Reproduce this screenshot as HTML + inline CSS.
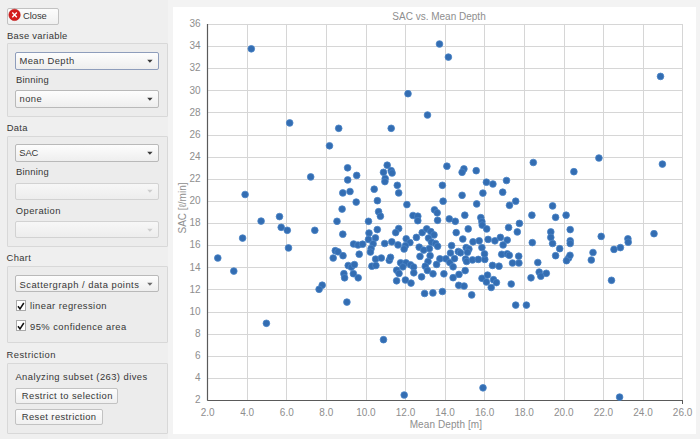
<!DOCTYPE html>
<html><head><meta charset="utf-8">
<style>
html,body{margin:0;padding:0;}
body{width:700px;height:439px;background:#efefef;position:relative;overflow:hidden;font-family:"Liberation Sans",sans-serif;font-size:9.4px;color:#363636;}
.a{position:absolute;}
.t{position:absolute;white-space:nowrap;line-height:10px;letter-spacing:0.42px;}
.gb{position:absolute;left:7px;width:160.8px;border:1px solid #d8d8d8;background:#ececec;border-radius:1px;box-sizing:border-box;}
.cb{position:absolute;left:15px;width:144px;height:17.5px;border:1px solid #b9b9b9;border-radius:2px;background:linear-gradient(#fdfdfd,#eeeeee);box-sizing:border-box;}
.cb.dis{border-color:#d2d2d2;background:linear-gradient(#f7f7f7,#ededed);}
.cb.foc{border-color:#8e9dbb;}
.arr{position:absolute;left:130.3px;top:5.5px;width:8px;height:5px;}
.btn{position:absolute;border:1px solid #c2c2c2;border-radius:2px;background:linear-gradient(#fcfcfc,#f0f0f0);box-sizing:border-box;}
.chk{position:absolute;left:15.5px;width:10px;height:11px;border:1px solid #a9a9a9;background:#fff;box-sizing:border-box;}
.lab{font-family:"Liberation Sans",sans-serif;font-size:10px;fill:#8e8e8e;}
</style></head><body>
<!-- Close button -->
<div class="btn" style="left:6.5px;top:7.5px;width:52.5px;height:17px;"></div>
<svg class="a" style="left:0;top:0" width="30" height="30"><circle cx="14.55" cy="14.9" r="5.7" fill="#d41c1c" stroke="#b81010" stroke-width="0.6"/><path d="M12.3 12.5 L16.8 17.3 M16.8 12.5 L12.3 17.3" stroke="#fff" stroke-width="1.3"/></svg>
<div class="t" style="left:23px;top:10.5px;letter-spacing:-0.05px;">Close</div>

<div class="t" style="left:6.9px;top:30.6px;letter-spacing:0.3px;">Base variable</div>
<div class="gb" style="top:42.8px;height:74.2px;"></div>
<div class="cb foc" style="top:52px;"><svg class="arr" width="8" height="5"><path d="M1.2 0.8 L6.6 0.8 L3.9 3.8 Z" fill="#3a3a3a"/></svg></div>
<div class="t" style="left:19.5px;top:55.6px;letter-spacing:0.4px;">Mean Depth</div>
<div class="t" style="left:16px;top:75.1px;letter-spacing:0.24px;">Binning</div>
<div class="cb" style="top:90.2px;"><svg class="arr" width="8" height="5"><path d="M1.2 0.8 L6.6 0.8 L3.9 3.8 Z" fill="#3a3a3a"/></svg></div>
<div class="t" style="left:19.6px;top:93.7px;letter-spacing:0.41px;">none</div>

<div class="t" style="left:6.7px;top:122.8px;letter-spacing:0.3px;">Data</div>
<div class="gb" style="top:136.2px;height:110.6px;"></div>
<div class="cb" style="top:144.2px;"><svg class="arr" width="8" height="5"><path d="M1.2 0.8 L6.6 0.8 L3.9 3.8 Z" fill="#3a3a3a"/></svg></div>
<div class="t" style="left:19.3px;top:148.3px;letter-spacing:-0.1px;">SAC</div>
<div class="t" style="left:16px;top:167.4px;letter-spacing:0.24px;">Binning</div>
<div class="cb dis" style="top:182.5px;"><svg class="arr" width="8" height="5"><path d="M1.2 0.8 L6.6 0.8 L3.9 3.8 Z" fill="#cdcdcd"/></svg></div>
<div class="t" style="left:15.8px;top:205.8px;letter-spacing:0.44px;">Operation</div>
<div class="cb dis" style="top:221px;height:16.5px;"><svg class="arr" width="8" height="5"><path d="M1.2 0.8 L6.6 0.8 L3.9 3.8 Z" fill="#cdcdcd"/></svg></div>

<div class="t" style="left:6.5px;top:253.2px;letter-spacing:0.37px;">Chart</div>
<div class="gb" style="top:266.3px;height:76.6px;"></div>
<div class="cb" style="top:275px;height:17.3px;"><svg class="arr" width="8" height="5"><path d="M1.2 0.8 L6.6 0.8 L3.9 3.8 Z" fill="#6a6a6a"/></svg></div>
<div class="t" style="left:19.5px;top:280px;letter-spacing:0.48px;">Scattergraph / data points</div>
<div class="chk" style="top:300.2px;"></div>
<svg class="a" style="left:15px;top:300px" width="12" height="12"><path d="M3 6.2 L5 9 L8.8 3" stroke="#111" stroke-width="1.5" fill="none"/></svg>
<div class="t" style="left:30px;top:301.2px;letter-spacing:0.45px;">linear regression</div>
<div class="chk" style="top:320.2px;"></div>
<svg class="a" style="left:15px;top:320px" width="12" height="12"><path d="M3 6.2 L5 9 L8.8 3" stroke="#111" stroke-width="1.5" fill="none"/></svg>
<div class="t" style="left:30px;top:321.7px;letter-spacing:0.45px;">95% confidence area</div>

<div class="t" style="left:6.5px;top:349.6px;letter-spacing:0.47px;">Restriction</div>
<div class="gb" style="top:363px;height:71px;"></div>
<div class="t" style="left:15.4px;top:372.1px;letter-spacing:0.44px;">Analyzing subset (263) dives</div>
<div class="btn" style="left:15.4px;top:387.6px;width:102.8px;height:16px;"></div>
<div class="t" style="left:21.8px;top:391px;letter-spacing:0.44px;">Restrict to selection</div>
<div class="btn" style="left:15.4px;top:408.6px;width:87.2px;height:16.2px;"></div>
<div class="t" style="left:21.8px;top:412px;letter-spacing:0.41px;">Reset restriction</div>

<!-- chart panel -->
<div class="a" style="left:168px;top:0px;width:532px;height:439px;background:#f3f3f3;"></div>
<div class="a" style="left:172.5px;top:7px;width:523.8px;height:426.8px;background:#fff;"></div>
<svg class="a" style="left:0;top:0" width="700" height="439">
<line x1="247.5" y1="23.95999999999998" x2="247.5" y2="400.0" stroke="#d6d6d6" stroke-width="1"/>
<line x1="286.5" y1="23.95999999999998" x2="286.5" y2="400.0" stroke="#d6d6d6" stroke-width="1"/>
<line x1="326.5" y1="23.95999999999998" x2="326.5" y2="400.0" stroke="#d6d6d6" stroke-width="1"/>
<line x1="366.5" y1="23.95999999999998" x2="366.5" y2="400.0" stroke="#d6d6d6" stroke-width="1"/>
<line x1="405.5" y1="23.95999999999998" x2="405.5" y2="400.0" stroke="#d6d6d6" stroke-width="1"/>
<line x1="445.5" y1="23.95999999999998" x2="445.5" y2="400.0" stroke="#d6d6d6" stroke-width="1"/>
<line x1="484.5" y1="23.95999999999998" x2="484.5" y2="400.0" stroke="#d6d6d6" stroke-width="1"/>
<line x1="524.5" y1="23.95999999999998" x2="524.5" y2="400.0" stroke="#d6d6d6" stroke-width="1"/>
<line x1="564.5" y1="23.95999999999998" x2="564.5" y2="400.0" stroke="#d6d6d6" stroke-width="1"/>
<line x1="603.5" y1="23.95999999999998" x2="603.5" y2="400.0" stroke="#d6d6d6" stroke-width="1"/>
<line x1="643.5" y1="23.95999999999998" x2="643.5" y2="400.0" stroke="#d6d6d6" stroke-width="1"/>
<line x1="682.5" y1="23.95999999999998" x2="682.5" y2="400.0" stroke="#d6d6d6" stroke-width="1"/>
<line x1="207.3" y1="378.5" x2="682.26" y2="378.5" stroke="#d6d6d6" stroke-width="1"/>
<line x1="207.3" y1="356.5" x2="682.26" y2="356.5" stroke="#d6d6d6" stroke-width="1"/>
<line x1="207.3" y1="334.5" x2="682.26" y2="334.5" stroke="#d6d6d6" stroke-width="1"/>
<line x1="207.3" y1="312.5" x2="682.26" y2="312.5" stroke="#d6d6d6" stroke-width="1"/>
<line x1="207.3" y1="289.5" x2="682.26" y2="289.5" stroke="#d6d6d6" stroke-width="1"/>
<line x1="207.3" y1="267.5" x2="682.26" y2="267.5" stroke="#d6d6d6" stroke-width="1"/>
<line x1="207.3" y1="245.5" x2="682.26" y2="245.5" stroke="#d6d6d6" stroke-width="1"/>
<line x1="207.3" y1="223.5" x2="682.26" y2="223.5" stroke="#d6d6d6" stroke-width="1"/>
<line x1="207.3" y1="201.5" x2="682.26" y2="201.5" stroke="#d6d6d6" stroke-width="1"/>
<line x1="207.3" y1="179.5" x2="682.26" y2="179.5" stroke="#d6d6d6" stroke-width="1"/>
<line x1="207.3" y1="157.5" x2="682.26" y2="157.5" stroke="#d6d6d6" stroke-width="1"/>
<line x1="207.3" y1="135.5" x2="682.26" y2="135.5" stroke="#d6d6d6" stroke-width="1"/>
<line x1="207.3" y1="112.5" x2="682.26" y2="112.5" stroke="#d6d6d6" stroke-width="1"/>
<line x1="207.3" y1="90.5" x2="682.26" y2="90.5" stroke="#d6d6d6" stroke-width="1"/>
<line x1="207.3" y1="68.5" x2="682.26" y2="68.5" stroke="#d6d6d6" stroke-width="1"/>
<line x1="207.3" y1="46.5" x2="682.26" y2="46.5" stroke="#d6d6d6" stroke-width="1"/>
<line x1="207.3" y1="24.5" x2="682.26" y2="24.5" stroke="#d6d6d6" stroke-width="1"/>
<line x1="207.5" y1="23.95999999999998" x2="207.5" y2="400.5" stroke="#5a5a5a" stroke-width="1.2"/>
<line x1="207.3" y1="400.5" x2="682.76" y2="400.5" stroke="#5a5a5a" stroke-width="1.2"/>
<line x1="682.5" y1="400" x2="682.5" y2="404" stroke="#5a5a5a" stroke-width="1"/>
<text x="200.6" y="403.2" text-anchor="end" class="lab" style="letter-spacing:0px">2</text>
<text x="200.6" y="381.1" text-anchor="end" class="lab" style="letter-spacing:0px">4</text>
<text x="200.6" y="359.0" text-anchor="end" class="lab" style="letter-spacing:0px">6</text>
<text x="200.6" y="336.8" text-anchor="end" class="lab" style="letter-spacing:0px">8</text>
<text x="200.6" y="314.7" text-anchor="end" class="lab" style="letter-spacing:0px">10</text>
<text x="200.6" y="292.6" text-anchor="end" class="lab" style="letter-spacing:0px">12</text>
<text x="200.6" y="270.5" text-anchor="end" class="lab" style="letter-spacing:0px">14</text>
<text x="200.6" y="248.4" text-anchor="end" class="lab" style="letter-spacing:0px">16</text>
<text x="200.6" y="226.2" text-anchor="end" class="lab" style="letter-spacing:0px">18</text>
<text x="200.6" y="204.1" text-anchor="end" class="lab" style="letter-spacing:0px">20</text>
<text x="200.6" y="182.0" text-anchor="end" class="lab" style="letter-spacing:0px">22</text>
<text x="200.6" y="159.9" text-anchor="end" class="lab" style="letter-spacing:0px">24</text>
<text x="200.6" y="137.8" text-anchor="end" class="lab" style="letter-spacing:0px">26</text>
<text x="200.6" y="115.6" text-anchor="end" class="lab" style="letter-spacing:0px">28</text>
<text x="200.6" y="93.5" text-anchor="end" class="lab" style="letter-spacing:0px">30</text>
<text x="200.6" y="71.4" text-anchor="end" class="lab" style="letter-spacing:0px">32</text>
<text x="200.6" y="49.3" text-anchor="end" class="lab" style="letter-spacing:0px">34</text>
<text x="200.6" y="27.2" text-anchor="end" class="lab" style="letter-spacing:0px">36</text>
<text x="207.6" y="415.6" text-anchor="middle" class="lab" style="letter-spacing:0px">2.0</text>
<text x="247.2" y="415.6" text-anchor="middle" class="lab" style="letter-spacing:0px">4.0</text>
<text x="286.8" y="415.6" text-anchor="middle" class="lab" style="letter-spacing:0px">6.0</text>
<text x="326.3" y="415.6" text-anchor="middle" class="lab" style="letter-spacing:0px">8.0</text>
<text x="365.9" y="415.6" text-anchor="middle" class="lab" style="letter-spacing:0px">10.0</text>
<text x="405.5" y="415.6" text-anchor="middle" class="lab" style="letter-spacing:0px">12.0</text>
<text x="445.1" y="415.6" text-anchor="middle" class="lab" style="letter-spacing:0px">14.0</text>
<text x="484.7" y="415.6" text-anchor="middle" class="lab" style="letter-spacing:0px">16.0</text>
<text x="524.2" y="415.6" text-anchor="middle" class="lab" style="letter-spacing:0px">18.0</text>
<text x="563.8" y="415.6" text-anchor="middle" class="lab" style="letter-spacing:0px">20.0</text>
<text x="603.4" y="415.6" text-anchor="middle" class="lab" style="letter-spacing:0px">22.0</text>
<text x="643.0" y="415.6" text-anchor="middle" class="lab" style="letter-spacing:0px">24.0</text>
<text x="682.6" y="415.6" text-anchor="middle" class="lab" style="letter-spacing:0px">26.0</text>
<text x="445.9" y="427.8" text-anchor="middle" class="lab" style="letter-spacing:0.1px">Mean Depth [m]</text>
<text x="439" y="19.8" text-anchor="middle" class="lab" style="letter-spacing:0px">SAC vs. Mean Depth</text>
<text transform="translate(186.4,208) rotate(-90)" text-anchor="middle" class="lab" style="letter-spacing:0px">SAC [ℓ/min]</text>
<circle cx="251.3" cy="48.8" r="3.35" fill="#336db2" stroke="#4a84c6" stroke-width="0.8"/>
<circle cx="439.5" cy="44.0" r="3.35" fill="#336db2" stroke="#4a84c6" stroke-width="0.8"/>
<circle cx="408.0" cy="93.7" r="3.35" fill="#336db2" stroke="#4a84c6" stroke-width="0.8"/>
<circle cx="427.5" cy="115.0" r="3.35" fill="#336db2" stroke="#4a84c6" stroke-width="0.8"/>
<circle cx="289.7" cy="122.9" r="3.35" fill="#336db2" stroke="#4a84c6" stroke-width="0.8"/>
<circle cx="338.7" cy="128.3" r="3.35" fill="#336db2" stroke="#4a84c6" stroke-width="0.8"/>
<circle cx="391.2" cy="128.3" r="3.35" fill="#336db2" stroke="#4a84c6" stroke-width="0.8"/>
<circle cx="329.5" cy="145.8" r="3.35" fill="#336db2" stroke="#4a84c6" stroke-width="0.8"/>
<circle cx="448.4" cy="57.1" r="3.35" fill="#336db2" stroke="#4a84c6" stroke-width="0.8"/>
<circle cx="660.5" cy="76.4" r="3.35" fill="#336db2" stroke="#4a84c6" stroke-width="0.8"/>
<circle cx="310.7" cy="176.9" r="3.35" fill="#336db2" stroke="#4a84c6" stroke-width="0.8"/>
<circle cx="245.1" cy="194.5" r="3.35" fill="#336db2" stroke="#4a84c6" stroke-width="0.8"/>
<circle cx="261.1" cy="221.1" r="3.35" fill="#336db2" stroke="#4a84c6" stroke-width="0.8"/>
<circle cx="279.5" cy="216.6" r="3.35" fill="#336db2" stroke="#4a84c6" stroke-width="0.8"/>
<circle cx="281.2" cy="227.3" r="3.35" fill="#336db2" stroke="#4a84c6" stroke-width="0.8"/>
<circle cx="287.3" cy="230.3" r="3.35" fill="#336db2" stroke="#4a84c6" stroke-width="0.8"/>
<circle cx="314.8" cy="230.3" r="3.35" fill="#336db2" stroke="#4a84c6" stroke-width="0.8"/>
<circle cx="242.6" cy="238.1" r="3.35" fill="#336db2" stroke="#4a84c6" stroke-width="0.8"/>
<circle cx="288.5" cy="247.9" r="3.35" fill="#336db2" stroke="#4a84c6" stroke-width="0.8"/>
<circle cx="217.8" cy="258.0" r="3.35" fill="#336db2" stroke="#4a84c6" stroke-width="0.8"/>
<circle cx="233.8" cy="271.1" r="3.35" fill="#336db2" stroke="#4a84c6" stroke-width="0.8"/>
<circle cx="322.2" cy="285.2" r="3.35" fill="#336db2" stroke="#4a84c6" stroke-width="0.8"/>
<circle cx="319.1" cy="289.3" r="3.35" fill="#336db2" stroke="#4a84c6" stroke-width="0.8"/>
<circle cx="266.4" cy="323.3" r="3.35" fill="#336db2" stroke="#4a84c6" stroke-width="0.8"/>
<circle cx="347.6" cy="167.8" r="3.35" fill="#336db2" stroke="#4a84c6" stroke-width="0.8"/>
<circle cx="356.7" cy="175.4" r="3.35" fill="#336db2" stroke="#4a84c6" stroke-width="0.8"/>
<circle cx="347.7" cy="179.9" r="3.35" fill="#336db2" stroke="#4a84c6" stroke-width="0.8"/>
<circle cx="350.0" cy="191.5" r="3.35" fill="#336db2" stroke="#4a84c6" stroke-width="0.8"/>
<circle cx="342.8" cy="192.9" r="3.35" fill="#336db2" stroke="#4a84c6" stroke-width="0.8"/>
<circle cx="387.2" cy="165.2" r="3.35" fill="#336db2" stroke="#4a84c6" stroke-width="0.8"/>
<circle cx="383.5" cy="172.3" r="3.35" fill="#336db2" stroke="#4a84c6" stroke-width="0.8"/>
<circle cx="385.2" cy="178.5" r="3.35" fill="#336db2" stroke="#4a84c6" stroke-width="0.8"/>
<circle cx="384.9" cy="181.6" r="3.35" fill="#336db2" stroke="#4a84c6" stroke-width="0.8"/>
<circle cx="374.2" cy="189.2" r="3.35" fill="#336db2" stroke="#4a84c6" stroke-width="0.8"/>
<circle cx="356.2" cy="202.1" r="3.35" fill="#336db2" stroke="#4a84c6" stroke-width="0.8"/>
<circle cx="377.4" cy="200.7" r="3.35" fill="#336db2" stroke="#4a84c6" stroke-width="0.8"/>
<circle cx="342.1" cy="209.1" r="3.35" fill="#336db2" stroke="#4a84c6" stroke-width="0.8"/>
<circle cx="378.6" cy="211.7" r="3.35" fill="#336db2" stroke="#4a84c6" stroke-width="0.8"/>
<circle cx="380.4" cy="216.2" r="3.35" fill="#336db2" stroke="#4a84c6" stroke-width="0.8"/>
<circle cx="337.0" cy="221.3" r="3.35" fill="#336db2" stroke="#4a84c6" stroke-width="0.8"/>
<circle cx="368.5" cy="221.3" r="3.35" fill="#336db2" stroke="#4a84c6" stroke-width="0.8"/>
<circle cx="377.3" cy="229.6" r="3.35" fill="#336db2" stroke="#4a84c6" stroke-width="0.8"/>
<circle cx="342.8" cy="234.2" r="3.35" fill="#336db2" stroke="#4a84c6" stroke-width="0.8"/>
<circle cx="369.0" cy="233.0" r="3.35" fill="#336db2" stroke="#4a84c6" stroke-width="0.8"/>
<circle cx="375.4" cy="237.9" r="3.35" fill="#336db2" stroke="#4a84c6" stroke-width="0.8"/>
<circle cx="368.5" cy="239.4" r="3.35" fill="#336db2" stroke="#4a84c6" stroke-width="0.8"/>
<circle cx="353.6" cy="244.0" r="3.35" fill="#336db2" stroke="#4a84c6" stroke-width="0.8"/>
<circle cx="358.0" cy="245.0" r="3.35" fill="#336db2" stroke="#4a84c6" stroke-width="0.8"/>
<circle cx="362.6" cy="244.2" r="3.35" fill="#336db2" stroke="#4a84c6" stroke-width="0.8"/>
<circle cx="373.1" cy="243.8" r="3.35" fill="#336db2" stroke="#4a84c6" stroke-width="0.8"/>
<circle cx="371.1" cy="248.5" r="3.35" fill="#336db2" stroke="#4a84c6" stroke-width="0.8"/>
<circle cx="384.7" cy="243.5" r="3.35" fill="#336db2" stroke="#4a84c6" stroke-width="0.8"/>
<circle cx="335.3" cy="250.7" r="3.35" fill="#336db2" stroke="#4a84c6" stroke-width="0.8"/>
<circle cx="338.0" cy="251.8" r="3.35" fill="#336db2" stroke="#4a84c6" stroke-width="0.8"/>
<circle cx="333.2" cy="258.0" r="3.35" fill="#336db2" stroke="#4a84c6" stroke-width="0.8"/>
<circle cx="343.0" cy="255.7" r="3.35" fill="#336db2" stroke="#4a84c6" stroke-width="0.8"/>
<circle cx="359.2" cy="254.2" r="3.35" fill="#336db2" stroke="#4a84c6" stroke-width="0.8"/>
<circle cx="370.4" cy="252.1" r="3.35" fill="#336db2" stroke="#4a84c6" stroke-width="0.8"/>
<circle cx="375.6" cy="259.1" r="3.35" fill="#336db2" stroke="#4a84c6" stroke-width="0.8"/>
<circle cx="381.3" cy="258.0" r="3.35" fill="#336db2" stroke="#4a84c6" stroke-width="0.8"/>
<circle cx="389.3" cy="260.3" r="3.35" fill="#336db2" stroke="#4a84c6" stroke-width="0.8"/>
<circle cx="348.2" cy="265.5" r="3.35" fill="#336db2" stroke="#4a84c6" stroke-width="0.8"/>
<circle cx="351.3" cy="267.1" r="3.35" fill="#336db2" stroke="#4a84c6" stroke-width="0.8"/>
<circle cx="354.4" cy="264.6" r="3.35" fill="#336db2" stroke="#4a84c6" stroke-width="0.8"/>
<circle cx="371.9" cy="266.2" r="3.35" fill="#336db2" stroke="#4a84c6" stroke-width="0.8"/>
<circle cx="375.9" cy="265.5" r="3.35" fill="#336db2" stroke="#4a84c6" stroke-width="0.8"/>
<circle cx="343.9" cy="273.7" r="3.35" fill="#336db2" stroke="#4a84c6" stroke-width="0.8"/>
<circle cx="344.6" cy="277.8" r="3.35" fill="#336db2" stroke="#4a84c6" stroke-width="0.8"/>
<circle cx="353.4" cy="273.7" r="3.35" fill="#336db2" stroke="#4a84c6" stroke-width="0.8"/>
<circle cx="358.2" cy="277.8" r="3.35" fill="#336db2" stroke="#4a84c6" stroke-width="0.8"/>
<circle cx="346.9" cy="302.1" r="3.35" fill="#336db2" stroke="#4a84c6" stroke-width="0.8"/>
<circle cx="383.5" cy="339.7" r="3.35" fill="#336db2" stroke="#4a84c6" stroke-width="0.8"/>
<circle cx="391.2" cy="170.7" r="3.35" fill="#336db2" stroke="#4a84c6" stroke-width="0.8"/>
<circle cx="392.1" cy="173.0" r="3.35" fill="#336db2" stroke="#4a84c6" stroke-width="0.8"/>
<circle cx="397.3" cy="185.3" r="3.35" fill="#336db2" stroke="#4a84c6" stroke-width="0.8"/>
<circle cx="398.7" cy="192.9" r="3.35" fill="#336db2" stroke="#4a84c6" stroke-width="0.8"/>
<circle cx="446.9" cy="166.2" r="3.35" fill="#336db2" stroke="#4a84c6" stroke-width="0.8"/>
<circle cx="442.4" cy="185.3" r="3.35" fill="#336db2" stroke="#4a84c6" stroke-width="0.8"/>
<circle cx="406.9" cy="204.6" r="3.35" fill="#336db2" stroke="#4a84c6" stroke-width="0.8"/>
<circle cx="443.1" cy="201.2" r="3.35" fill="#336db2" stroke="#4a84c6" stroke-width="0.8"/>
<circle cx="413.0" cy="215.5" r="3.35" fill="#336db2" stroke="#4a84c6" stroke-width="0.8"/>
<circle cx="417.8" cy="216.2" r="3.35" fill="#336db2" stroke="#4a84c6" stroke-width="0.8"/>
<circle cx="417.8" cy="220.7" r="3.35" fill="#336db2" stroke="#4a84c6" stroke-width="0.8"/>
<circle cx="434.5" cy="209.8" r="3.35" fill="#336db2" stroke="#4a84c6" stroke-width="0.8"/>
<circle cx="437.2" cy="212.8" r="3.35" fill="#336db2" stroke="#4a84c6" stroke-width="0.8"/>
<circle cx="437.6" cy="220.3" r="3.35" fill="#336db2" stroke="#4a84c6" stroke-width="0.8"/>
<circle cx="449.3" cy="218.9" r="3.35" fill="#336db2" stroke="#4a84c6" stroke-width="0.8"/>
<circle cx="398.7" cy="228.5" r="3.35" fill="#336db2" stroke="#4a84c6" stroke-width="0.8"/>
<circle cx="395.7" cy="232.6" r="3.35" fill="#336db2" stroke="#4a84c6" stroke-width="0.8"/>
<circle cx="391.8" cy="241.8" r="3.35" fill="#336db2" stroke="#4a84c6" stroke-width="0.8"/>
<circle cx="398.0" cy="244.9" r="3.35" fill="#336db2" stroke="#4a84c6" stroke-width="0.8"/>
<circle cx="406.2" cy="238.8" r="3.35" fill="#336db2" stroke="#4a84c6" stroke-width="0.8"/>
<circle cx="409.9" cy="242.6" r="3.35" fill="#336db2" stroke="#4a84c6" stroke-width="0.8"/>
<circle cx="405.5" cy="245.6" r="3.35" fill="#336db2" stroke="#4a84c6" stroke-width="0.8"/>
<circle cx="404.1" cy="249.0" r="3.35" fill="#336db2" stroke="#4a84c6" stroke-width="0.8"/>
<circle cx="416.4" cy="237.4" r="3.35" fill="#336db2" stroke="#4a84c6" stroke-width="0.8"/>
<circle cx="422.2" cy="232.6" r="3.35" fill="#336db2" stroke="#4a84c6" stroke-width="0.8"/>
<circle cx="426.7" cy="228.9" r="3.35" fill="#336db2" stroke="#4a84c6" stroke-width="0.8"/>
<circle cx="430.8" cy="231.6" r="3.35" fill="#336db2" stroke="#4a84c6" stroke-width="0.8"/>
<circle cx="434.0" cy="234.9" r="3.35" fill="#336db2" stroke="#4a84c6" stroke-width="0.8"/>
<circle cx="428.5" cy="238.1" r="3.35" fill="#336db2" stroke="#4a84c6" stroke-width="0.8"/>
<circle cx="431.5" cy="242.2" r="3.35" fill="#336db2" stroke="#4a84c6" stroke-width="0.8"/>
<circle cx="435.6" cy="243.5" r="3.35" fill="#336db2" stroke="#4a84c6" stroke-width="0.8"/>
<circle cx="437.6" cy="246.3" r="3.35" fill="#336db2" stroke="#4a84c6" stroke-width="0.8"/>
<circle cx="419.2" cy="247.2" r="3.35" fill="#336db2" stroke="#4a84c6" stroke-width="0.8"/>
<circle cx="429.4" cy="248.6" r="3.35" fill="#336db2" stroke="#4a84c6" stroke-width="0.8"/>
<circle cx="390.5" cy="257.3" r="3.35" fill="#336db2" stroke="#4a84c6" stroke-width="0.8"/>
<circle cx="423.7" cy="250.1" r="3.35" fill="#336db2" stroke="#4a84c6" stroke-width="0.8"/>
<circle cx="420.0" cy="256.4" r="3.35" fill="#336db2" stroke="#4a84c6" stroke-width="0.8"/>
<circle cx="430.1" cy="255.7" r="3.35" fill="#336db2" stroke="#4a84c6" stroke-width="0.8"/>
<circle cx="428.0" cy="261.5" r="3.35" fill="#336db2" stroke="#4a84c6" stroke-width="0.8"/>
<circle cx="425.3" cy="266.2" r="3.35" fill="#336db2" stroke="#4a84c6" stroke-width="0.8"/>
<circle cx="427.4" cy="270.4" r="3.35" fill="#336db2" stroke="#4a84c6" stroke-width="0.8"/>
<circle cx="433.0" cy="273.8" r="3.35" fill="#336db2" stroke="#4a84c6" stroke-width="0.8"/>
<circle cx="436.6" cy="264.4" r="3.35" fill="#336db2" stroke="#4a84c6" stroke-width="0.8"/>
<circle cx="439.9" cy="258.8" r="3.35" fill="#336db2" stroke="#4a84c6" stroke-width="0.8"/>
<circle cx="445.9" cy="258.8" r="3.35" fill="#336db2" stroke="#4a84c6" stroke-width="0.8"/>
<circle cx="449.8" cy="262.5" r="3.35" fill="#336db2" stroke="#4a84c6" stroke-width="0.8"/>
<circle cx="443.9" cy="273.8" r="3.35" fill="#336db2" stroke="#4a84c6" stroke-width="0.8"/>
<circle cx="400.6" cy="262.8" r="3.35" fill="#336db2" stroke="#4a84c6" stroke-width="0.8"/>
<circle cx="406.0" cy="262.8" r="3.35" fill="#336db2" stroke="#4a84c6" stroke-width="0.8"/>
<circle cx="402.9" cy="266.8" r="3.35" fill="#336db2" stroke="#4a84c6" stroke-width="0.8"/>
<circle cx="410.5" cy="264.8" r="3.35" fill="#336db2" stroke="#4a84c6" stroke-width="0.8"/>
<circle cx="413.6" cy="267.0" r="3.35" fill="#336db2" stroke="#4a84c6" stroke-width="0.8"/>
<circle cx="413.8" cy="272.8" r="3.35" fill="#336db2" stroke="#4a84c6" stroke-width="0.8"/>
<circle cx="396.7" cy="270.2" r="3.35" fill="#336db2" stroke="#4a84c6" stroke-width="0.8"/>
<circle cx="399.0" cy="273.4" r="3.35" fill="#336db2" stroke="#4a84c6" stroke-width="0.8"/>
<circle cx="421.6" cy="276.8" r="3.35" fill="#336db2" stroke="#4a84c6" stroke-width="0.8"/>
<circle cx="396.6" cy="280.8" r="3.35" fill="#336db2" stroke="#4a84c6" stroke-width="0.8"/>
<circle cx="405.4" cy="280.0" r="3.35" fill="#336db2" stroke="#4a84c6" stroke-width="0.8"/>
<circle cx="411.0" cy="283.1" r="3.35" fill="#336db2" stroke="#4a84c6" stroke-width="0.8"/>
<circle cx="424.6" cy="293.5" r="3.35" fill="#336db2" stroke="#4a84c6" stroke-width="0.8"/>
<circle cx="432.9" cy="292.9" r="3.35" fill="#336db2" stroke="#4a84c6" stroke-width="0.8"/>
<circle cx="442.4" cy="291.5" r="3.35" fill="#336db2" stroke="#4a84c6" stroke-width="0.8"/>
<circle cx="404.2" cy="395.0" r="3.35" fill="#336db2" stroke="#4a84c6" stroke-width="0.8"/>
<circle cx="463.9" cy="168.9" r="3.35" fill="#336db2" stroke="#4a84c6" stroke-width="0.8"/>
<circle cx="462.1" cy="172.3" r="3.35" fill="#336db2" stroke="#4a84c6" stroke-width="0.8"/>
<circle cx="476.2" cy="170.7" r="3.35" fill="#336db2" stroke="#4a84c6" stroke-width="0.8"/>
<circle cx="486.4" cy="182.2" r="3.35" fill="#336db2" stroke="#4a84c6" stroke-width="0.8"/>
<circle cx="492.9" cy="184.0" r="3.35" fill="#336db2" stroke="#4a84c6" stroke-width="0.8"/>
<circle cx="506.5" cy="180.5" r="3.35" fill="#336db2" stroke="#4a84c6" stroke-width="0.8"/>
<circle cx="482.9" cy="193.1" r="3.35" fill="#336db2" stroke="#4a84c6" stroke-width="0.8"/>
<circle cx="462.1" cy="195.3" r="3.35" fill="#336db2" stroke="#4a84c6" stroke-width="0.8"/>
<circle cx="502.7" cy="192.2" r="3.35" fill="#336db2" stroke="#4a84c6" stroke-width="0.8"/>
<circle cx="476.7" cy="203.9" r="3.35" fill="#336db2" stroke="#4a84c6" stroke-width="0.8"/>
<circle cx="509.5" cy="205.3" r="3.35" fill="#336db2" stroke="#4a84c6" stroke-width="0.8"/>
<circle cx="464.8" cy="215.2" r="3.35" fill="#336db2" stroke="#4a84c6" stroke-width="0.8"/>
<circle cx="455.3" cy="221.3" r="3.35" fill="#336db2" stroke="#4a84c6" stroke-width="0.8"/>
<circle cx="480.8" cy="217.6" r="3.35" fill="#336db2" stroke="#4a84c6" stroke-width="0.8"/>
<circle cx="481.9" cy="221.7" r="3.35" fill="#336db2" stroke="#4a84c6" stroke-width="0.8"/>
<circle cx="482.2" cy="225.1" r="3.35" fill="#336db2" stroke="#4a84c6" stroke-width="0.8"/>
<circle cx="486.7" cy="228.9" r="3.35" fill="#336db2" stroke="#4a84c6" stroke-width="0.8"/>
<circle cx="468.2" cy="228.9" r="3.35" fill="#336db2" stroke="#4a84c6" stroke-width="0.8"/>
<circle cx="456.2" cy="232.6" r="3.35" fill="#336db2" stroke="#4a84c6" stroke-width="0.8"/>
<circle cx="462.8" cy="239.0" r="3.35" fill="#336db2" stroke="#4a84c6" stroke-width="0.8"/>
<circle cx="508.6" cy="227.5" r="3.35" fill="#336db2" stroke="#4a84c6" stroke-width="0.8"/>
<circle cx="473.0" cy="241.8" r="3.35" fill="#336db2" stroke="#4a84c6" stroke-width="0.8"/>
<circle cx="479.2" cy="240.8" r="3.35" fill="#336db2" stroke="#4a84c6" stroke-width="0.8"/>
<circle cx="488.1" cy="239.4" r="3.35" fill="#336db2" stroke="#4a84c6" stroke-width="0.8"/>
<circle cx="494.9" cy="240.8" r="3.35" fill="#336db2" stroke="#4a84c6" stroke-width="0.8"/>
<circle cx="500.4" cy="237.4" r="3.35" fill="#336db2" stroke="#4a84c6" stroke-width="0.8"/>
<circle cx="507.2" cy="240.1" r="3.35" fill="#336db2" stroke="#4a84c6" stroke-width="0.8"/>
<circle cx="503.1" cy="244.9" r="3.35" fill="#336db2" stroke="#4a84c6" stroke-width="0.8"/>
<circle cx="451.6" cy="245.6" r="3.35" fill="#336db2" stroke="#4a84c6" stroke-width="0.8"/>
<circle cx="466.2" cy="247.6" r="3.35" fill="#336db2" stroke="#4a84c6" stroke-width="0.8"/>
<circle cx="468.9" cy="249.0" r="3.35" fill="#336db2" stroke="#4a84c6" stroke-width="0.8"/>
<circle cx="481.9" cy="247.6" r="3.35" fill="#336db2" stroke="#4a84c6" stroke-width="0.8"/>
<circle cx="450.5" cy="253.0" r="3.35" fill="#336db2" stroke="#4a84c6" stroke-width="0.8"/>
<circle cx="458.3" cy="251.5" r="3.35" fill="#336db2" stroke="#4a84c6" stroke-width="0.8"/>
<circle cx="460.5" cy="252.8" r="3.35" fill="#336db2" stroke="#4a84c6" stroke-width="0.8"/>
<circle cx="467.5" cy="252.3" r="3.35" fill="#336db2" stroke="#4a84c6" stroke-width="0.8"/>
<circle cx="454.5" cy="258.6" r="3.35" fill="#336db2" stroke="#4a84c6" stroke-width="0.8"/>
<circle cx="453.1" cy="266.8" r="3.35" fill="#336db2" stroke="#4a84c6" stroke-width="0.8"/>
<circle cx="465.6" cy="259.0" r="3.35" fill="#336db2" stroke="#4a84c6" stroke-width="0.8"/>
<circle cx="466.6" cy="261.5" r="3.35" fill="#336db2" stroke="#4a84c6" stroke-width="0.8"/>
<circle cx="472.5" cy="259.9" r="3.35" fill="#336db2" stroke="#4a84c6" stroke-width="0.8"/>
<circle cx="478.3" cy="259.4" r="3.35" fill="#336db2" stroke="#4a84c6" stroke-width="0.8"/>
<circle cx="484.8" cy="259.4" r="3.35" fill="#336db2" stroke="#4a84c6" stroke-width="0.8"/>
<circle cx="484.5" cy="253.9" r="3.35" fill="#336db2" stroke="#4a84c6" stroke-width="0.8"/>
<circle cx="465.2" cy="270.6" r="3.35" fill="#336db2" stroke="#4a84c6" stroke-width="0.8"/>
<circle cx="459.0" cy="274.4" r="3.35" fill="#336db2" stroke="#4a84c6" stroke-width="0.8"/>
<circle cx="453.1" cy="277.7" r="3.35" fill="#336db2" stroke="#4a84c6" stroke-width="0.8"/>
<circle cx="482.0" cy="278.3" r="3.35" fill="#336db2" stroke="#4a84c6" stroke-width="0.8"/>
<circle cx="487.5" cy="275.1" r="3.35" fill="#336db2" stroke="#4a84c6" stroke-width="0.8"/>
<circle cx="486.4" cy="282.0" r="3.35" fill="#336db2" stroke="#4a84c6" stroke-width="0.8"/>
<circle cx="493.5" cy="279.7" r="3.35" fill="#336db2" stroke="#4a84c6" stroke-width="0.8"/>
<circle cx="496.4" cy="282.6" r="3.35" fill="#336db2" stroke="#4a84c6" stroke-width="0.8"/>
<circle cx="491.2" cy="287.5" r="3.35" fill="#336db2" stroke="#4a84c6" stroke-width="0.8"/>
<circle cx="458.7" cy="285.3" r="3.35" fill="#336db2" stroke="#4a84c6" stroke-width="0.8"/>
<circle cx="464.1" cy="286.0" r="3.35" fill="#336db2" stroke="#4a84c6" stroke-width="0.8"/>
<circle cx="471.7" cy="294.9" r="3.35" fill="#336db2" stroke="#4a84c6" stroke-width="0.8"/>
<circle cx="492.5" cy="265.4" r="3.35" fill="#336db2" stroke="#4a84c6" stroke-width="0.8"/>
<circle cx="499.0" cy="266.2" r="3.35" fill="#336db2" stroke="#4a84c6" stroke-width="0.8"/>
<circle cx="501.7" cy="254.3" r="3.35" fill="#336db2" stroke="#4a84c6" stroke-width="0.8"/>
<circle cx="507.2" cy="253.9" r="3.35" fill="#336db2" stroke="#4a84c6" stroke-width="0.8"/>
<circle cx="509.3" cy="255.3" r="3.35" fill="#336db2" stroke="#4a84c6" stroke-width="0.8"/>
<circle cx="483.0" cy="387.8" r="3.35" fill="#336db2" stroke="#4a84c6" stroke-width="0.8"/>
<circle cx="533.3" cy="162.5" r="3.35" fill="#336db2" stroke="#4a84c6" stroke-width="0.8"/>
<circle cx="515.7" cy="201.2" r="3.35" fill="#336db2" stroke="#4a84c6" stroke-width="0.8"/>
<circle cx="531.9" cy="215.2" r="3.35" fill="#336db2" stroke="#4a84c6" stroke-width="0.8"/>
<circle cx="552.6" cy="205.9" r="3.35" fill="#336db2" stroke="#4a84c6" stroke-width="0.8"/>
<circle cx="555.6" cy="217.3" r="3.35" fill="#336db2" stroke="#4a84c6" stroke-width="0.8"/>
<circle cx="566.1" cy="215.2" r="3.35" fill="#336db2" stroke="#4a84c6" stroke-width="0.8"/>
<circle cx="519.4" cy="223.4" r="3.35" fill="#336db2" stroke="#4a84c6" stroke-width="0.8"/>
<circle cx="517.3" cy="231.9" r="3.35" fill="#336db2" stroke="#4a84c6" stroke-width="0.8"/>
<circle cx="532.3" cy="242.6" r="3.35" fill="#336db2" stroke="#4a84c6" stroke-width="0.8"/>
<circle cx="550.8" cy="231.9" r="3.35" fill="#336db2" stroke="#4a84c6" stroke-width="0.8"/>
<circle cx="550.8" cy="237.4" r="3.35" fill="#336db2" stroke="#4a84c6" stroke-width="0.8"/>
<circle cx="552.6" cy="243.5" r="3.35" fill="#336db2" stroke="#4a84c6" stroke-width="0.8"/>
<circle cx="559.7" cy="248.7" r="3.35" fill="#336db2" stroke="#4a84c6" stroke-width="0.8"/>
<circle cx="518.7" cy="256.2" r="3.35" fill="#336db2" stroke="#4a84c6" stroke-width="0.8"/>
<circle cx="512.5" cy="263.0" r="3.35" fill="#336db2" stroke="#4a84c6" stroke-width="0.8"/>
<circle cx="518.9" cy="263.0" r="3.35" fill="#336db2" stroke="#4a84c6" stroke-width="0.8"/>
<circle cx="537.8" cy="262.5" r="3.35" fill="#336db2" stroke="#4a84c6" stroke-width="0.8"/>
<circle cx="555.6" cy="255.7" r="3.35" fill="#336db2" stroke="#4a84c6" stroke-width="0.8"/>
<circle cx="568.6" cy="258.0" r="3.35" fill="#336db2" stroke="#4a84c6" stroke-width="0.8"/>
<circle cx="566.5" cy="260.7" r="3.35" fill="#336db2" stroke="#4a84c6" stroke-width="0.8"/>
<circle cx="539.2" cy="272.1" r="3.35" fill="#336db2" stroke="#4a84c6" stroke-width="0.8"/>
<circle cx="540.8" cy="276.2" r="3.35" fill="#336db2" stroke="#4a84c6" stroke-width="0.8"/>
<circle cx="546.3" cy="273.3" r="3.35" fill="#336db2" stroke="#4a84c6" stroke-width="0.8"/>
<circle cx="531.0" cy="277.8" r="3.35" fill="#336db2" stroke="#4a84c6" stroke-width="0.8"/>
<circle cx="511.2" cy="284.0" r="3.35" fill="#336db2" stroke="#4a84c6" stroke-width="0.8"/>
<circle cx="515.7" cy="305.1" r="3.35" fill="#336db2" stroke="#4a84c6" stroke-width="0.8"/>
<circle cx="526.4" cy="305.1" r="3.35" fill="#336db2" stroke="#4a84c6" stroke-width="0.8"/>
<circle cx="598.9" cy="158.0" r="3.35" fill="#336db2" stroke="#4a84c6" stroke-width="0.8"/>
<circle cx="573.9" cy="171.7" r="3.35" fill="#336db2" stroke="#4a84c6" stroke-width="0.8"/>
<circle cx="570.2" cy="229.6" r="3.35" fill="#336db2" stroke="#4a84c6" stroke-width="0.8"/>
<circle cx="570.2" cy="240.8" r="3.35" fill="#336db2" stroke="#4a84c6" stroke-width="0.8"/>
<circle cx="570.2" cy="243.5" r="3.35" fill="#336db2" stroke="#4a84c6" stroke-width="0.8"/>
<circle cx="601.2" cy="236.4" r="3.35" fill="#336db2" stroke="#4a84c6" stroke-width="0.8"/>
<circle cx="627.9" cy="238.8" r="3.35" fill="#336db2" stroke="#4a84c6" stroke-width="0.8"/>
<circle cx="628.2" cy="242.2" r="3.35" fill="#336db2" stroke="#4a84c6" stroke-width="0.8"/>
<circle cx="614.0" cy="249.4" r="3.35" fill="#336db2" stroke="#4a84c6" stroke-width="0.8"/>
<circle cx="620.4" cy="247.6" r="3.35" fill="#336db2" stroke="#4a84c6" stroke-width="0.8"/>
<circle cx="570.0" cy="255.3" r="3.35" fill="#336db2" stroke="#4a84c6" stroke-width="0.8"/>
<circle cx="593.0" cy="252.5" r="3.35" fill="#336db2" stroke="#4a84c6" stroke-width="0.8"/>
<circle cx="591.3" cy="260.0" r="3.35" fill="#336db2" stroke="#4a84c6" stroke-width="0.8"/>
<circle cx="611.5" cy="280.3" r="3.35" fill="#336db2" stroke="#4a84c6" stroke-width="0.8"/>
<circle cx="619.6" cy="397.1" r="3.35" fill="#336db2" stroke="#4a84c6" stroke-width="0.8"/>
<circle cx="662.4" cy="164.1" r="3.35" fill="#336db2" stroke="#4a84c6" stroke-width="0.8"/>
<circle cx="654.0" cy="233.7" r="3.35" fill="#336db2" stroke="#4a84c6" stroke-width="0.8"/>
</svg>
</body></html>
